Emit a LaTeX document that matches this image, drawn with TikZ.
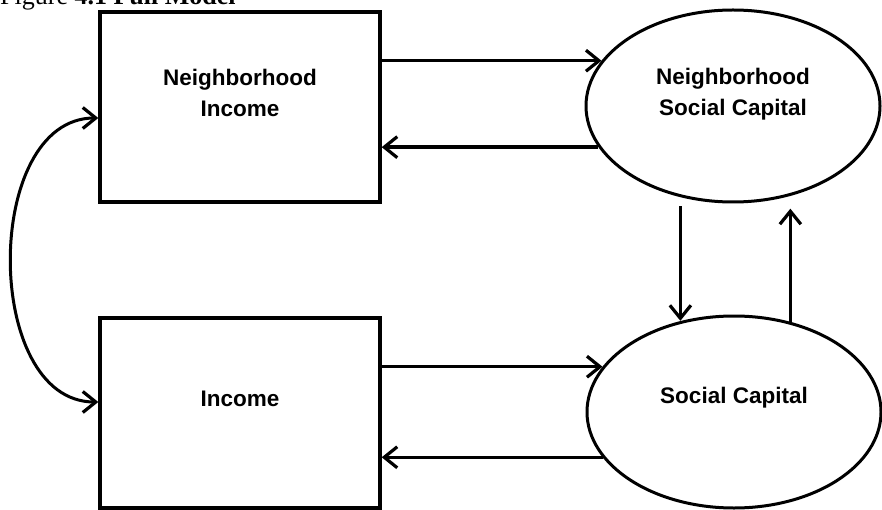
\documentclass[tikz,border=0pt]{standalone}
\usepackage{fontspec}
\setmainfont{Liberation Serif}
\newfontfamily\labelfont{Liberation Sans}
\usetikzlibrary{arrows.meta,shapes.geometric}

\tikzset{
  barb/.tip={Straight Barb[length=13pt,width=21pt,line width=3.2pt]},
  varbox/.style={draw, line width=3.4pt, rectangle, minimum width=280pt, minimum height=190pt, inner sep=0pt},
  latent/.style={draw, line width=3pt, ellipse, minimum width=294pt, minimum height=192pt, inner sep=0pt},
  vartext/.style={font=\labelfont\bfseries\fontsize{22.5}{31}\selectfont, align=center, inner sep=0pt},
  path/.style={line width=3.4pt, -barb},
  cov/.style={line width=3pt, barb-barb}
}

\begin{document}
\begin{tikzpicture}[x=1pt, y=-1pt]
  \useasboundingbox (0,0) rectangle (882,510);
  \clip (0,0) rectangle (882,510);

  % caption line
  \node[anchor=base west, inner sep=0pt, font=\fontsize{26}{30}\selectfont] (caption) at (0,5) {Figure \textbf{4.1 Full Model}};

  % observed variables
  \node[varbox] (ni)  at (240,107) {};
  \node[varbox] (inc) at (240,413) {};

  % latent variables
  \node[latent] (nsc) at (733,106) {};
  \node[latent] (sc)  at (734,412) {};

  % labels
  \node[vartext] (niT)  at ([yshift=14pt]ni.center)  {Neighborhood\\Income};
  \node[vartext] (incT) at ([yshift=14pt]inc.center) {Income};
  \node[vartext] (nscT) at ([yshift=12pt]nsc.center) {Neighborhood\\Social Capital};
  \node[vartext] (scT)  at ([yshift=14pt]sc.center)  {Social Capital};

  % reciprocal paths, income to social capital
  \draw[path] (ni.east |- nsc.161) -- (nsc.161);
  \draw[path] (nsc.197.6) -- (ni.east |- nsc.197.6);
  \draw[path] (inc.east |- sc.161) -- (sc.161);
  \draw[path] (sc.199) -- (inc.east |- sc.199);

  % reciprocal paths between the latent variables
  \coordinate (downStart) at ([yshift=-9pt]nsc.240.5);
  \coordinate (upTip) at ([yshift=-12pt]nsc.301.7);
  \draw[path] (downStart) -- (sc.120.3 -| downStart);
  \draw[path] (sc.58.6) -- (sc.58.6 |- upTip);

  % covariance between the two income measures
  \draw[cov] ([yshift=-11pt]ni.west) .. controls +(-116,0) and +(-116,0) .. ([yshift=11pt]inc.west);
\end{tikzpicture}
\end{document}
